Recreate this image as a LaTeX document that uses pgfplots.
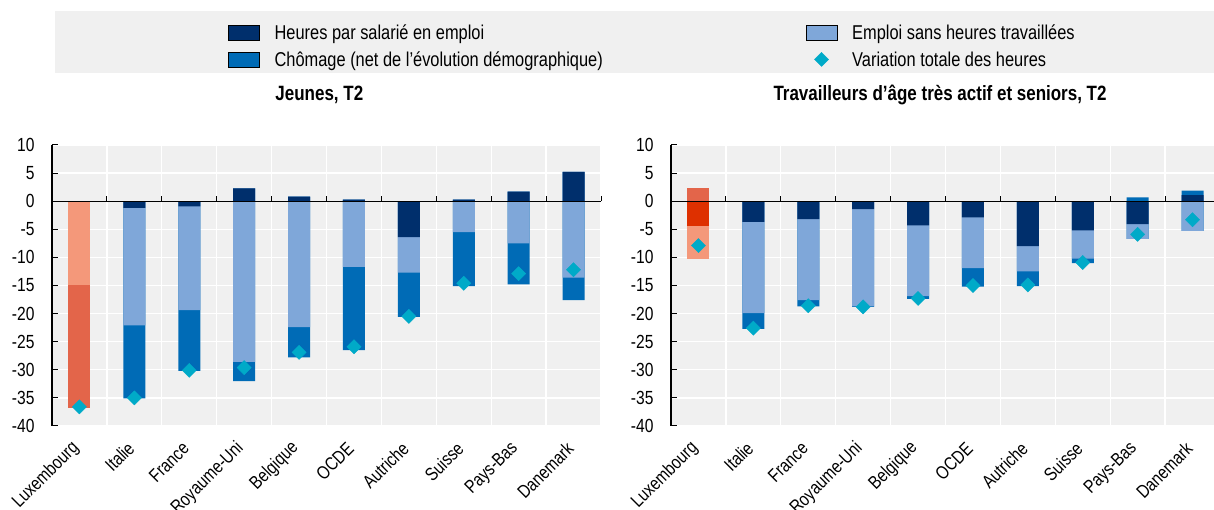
\documentclass[border=0pt]{standalone}
\usepackage{fontspec}
\setmainfont{Liberation Sans}[FakeStretch=0.82]
\usepackage{pgfplots}
\usepackage{pgfplotstable}
\pgfplotsset{compat=1.18}

\definecolor{cH}{HTML}{002F6C}
\definecolor{cC}{HTML}{006BB6}
\definecolor{cE}{HTML}{7FA7D9}
\definecolor{cD}{HTML}{00AAC8}
\definecolor{lH}{HTML}{DE3000}
\definecolor{lC}{HTML}{E3654A}
\definecolor{lE}{HTML}{F4987A}
\definecolor{plotbg}{HTML}{F0F0F0}

% h: heures par salarie, e: emploi sans heures, c: chomage, t: variation totale
\pgfplotstableread{
x h e c t
0 0 -14.9 -21.9 -36.6
1 -1.2 -20.9 -13.0 -35.0
2 -0.9 -18.5 -10.8 -30.1
3 2.3 -28.6 -3.4 -29.6
4 0.8 -22.4 -5.4 -26.9
5 0.3 -11.7 -14.8 -25.9
6 -6.4 -6.3 -7.9 -20.5
7 0.3 -5.5 -9.6 -14.6
8 1.7 -7.5 -7.3 -12.9
9 5.2 -13.6 -4.0 -12.2
}\jeunes

\pgfplotstableread{
x h e c t
0 -4.4 -5.9 2.3 -7.9
1 -3.7 -16.2 -2.8 -22.6
2 -3.2 -14.4 -1.1 -18.6
3 -1.4 -17.3 -0.1 -18.8
4 -4.3 -12.6 -0.5 -17.3
5 -2.9 -9.0 -3.3 -15.0
6 -8.0 -4.5 -2.6 -14.9
7 -5.2 -5.0 -0.8 -10.9
8 -4.1 -2.6 0.7 -5.9
9 1.1 -5.3 0.8 -3.3
}\seniors

\pgfplotsset{
  panel/.style={
    scale only axis, width=549pt, height=281pt,
    xmin=-0.5, xmax=9.5, ymin=-40, ymax=10,
    clip=false,
    axis background/.style={fill=plotbg},
    axis y line=left, y axis line style={-, black, line width=1.3pt},
    axis x line=bottom, x axis line style={draw=none},
    tick align=inside, major tick length=6pt,
    y tick style={black, line width=1pt},
    x tick style={draw=none},
    ytick={-40,-35,...,10},
    yticklabels={-40,-35,-30,-25,-20,-15,-10,-5,0,5,10},
    xtick={0,...,9},
    xticklabels={Luxembourg,Italie,France,Royaume-Uni,Belgique,OCDE,Autriche,Suisse,Pays-Bas,Danemark},
    minor xtick={-0.5,0.5,...,9.5},
    ymajorgrids, xminorgrids,
    major grid style={white, line width=1.3pt},
    minor grid style={white, line width=1.3pt},
    yticklabel style={font=\fontsize{19}{19}\selectfont, xshift=-14pt},
    xticklabel style={font=\fontsize{18.6}{18.6}\selectfont, xshift=-1pt, yshift=-17pt, rotate=45, anchor=east},
    title style={font=\fontsize{20.7}{20.7}\selectfont\bfseries, anchor=base, yshift=38pt},
  },
  seg/.style={ybar, bar width=22pt, bar shift=0pt, draw=none, forget plot},
  tot/.style={only marks, mark=square*, mark size=5pt, mark options={rotate=45, fill=cD, draw=cD}},
  legbar/.style={legend image code/.code={\fill[##1] (0pt,-7.5pt) rectangle (31pt,7.5pt);}},
  legmark/.style={legend image code/.code={\draw[##1] plot coordinates {(15.5pt,0pt)};}},
}

% stacked segments: negative parts stacked downward from 0, positive parts upward
\newcommand{\stackbars}[5]{%
  % #1 table, #2 index filter, #3 heures colour, #4 emploi colour, #5 chomage colour
  \addplot[seg, fill=#5, #2] table[x=x, y expr={min(\thisrow{h},0)+min(\thisrow{e},0)+min(\thisrow{c},0)}] {#1};
  \addplot[seg, fill=#4, #2] table[x=x, y expr={min(\thisrow{h},0)+min(\thisrow{e},0)}] {#1};
  \addplot[seg, fill=#3, #2] table[x=x, y expr={min(\thisrow{h},0)}] {#1};
  \addplot[seg, fill=#5, #2] table[x=x, y expr={max(\thisrow{h},0)+max(\thisrow{e},0)+max(\thisrow{c},0)}] {#1};
  \addplot[seg, fill=#4, #2] table[x=x, y expr={max(\thisrow{h},0)+max(\thisrow{e},0)}] {#1};
  \addplot[seg, fill=#3, #2] table[x=x, y expr={max(\thisrow{h},0)}] {#1};
}

\newcommand{\zeroline}{%
  \addplot[black, line width=1.3pt, forget plot] coordinates {(-0.5,0) (9.5,0)};
  \addplot[ycomb, black, line width=1pt, forget plot] coordinates
    {(0.5,0.9) (1.5,0.9) (2.5,0.9) (3.5,0.9) (4.5,0.9) (5.5,0.9) (6.5,0.9) (7.5,0.9) (8.5,0.9) (9.5,0.9)};
}

\begin{document}
\begin{tikzpicture}
\path[use as bounding box] (0,0) rectangle (1214pt,510pt);
\fill[plotbg] (55pt,437pt) rectangle (1214pt,499pt);

\begin{axis}[panel, at={(52pt,84pt)}, anchor=south west,
  title={Jeunes, T2},
  title style={at={(axis description cs:0.487,1)}},
  legend columns=2, legend cell align=left,
  legend style={at={(axis description cs:0.3206,1.4484)}, anchor=north west,
    draw=none, fill=none, inner sep=0pt, row sep=0.6pt,
    font=\fontsize{20}{20}\selectfont,
    nodes={text height=18.4pt, text depth=4pt, inner sep=2pt},
    /tikz/every odd column/.style={column sep=13pt},
    /tikz/every even column/.style={column sep=201pt}},
]
\addlegendimage{legbar, fill=cH}\addlegendentry{Heures par salarié en emploi}
\addlegendimage{legbar, fill=cE}\addlegendentry{Emploi sans heures travaillées}
\addlegendimage{legbar, fill=cC}\addlegendentry{Chômage (net de l'évolution démographique)}
\addlegendimage{legmark, tot}\addlegendentry{Variation totale des heures}

\stackbars{\jeunes}{skip coords between index={0}{1}}{cH}{cE}{cC}
\stackbars{\jeunes}{skip coords between index={1}{10}}{lH}{lE}{lC}
\zeroline
\addplot[tot, forget plot] table[x=x, y=t] {\jeunes};
\end{axis}

\begin{axis}[panel, at={(671pt,84pt)}, anchor=south west,
  title={Travailleurs d'âge très actif et seniors, T2},
  title style={at={(axis description cs:0.49,1)}},
]
\stackbars{\seniors}{skip coords between index={0}{1}}{cH}{cE}{cC}
\stackbars{\seniors}{skip coords between index={1}{10}}{lH}{lE}{lC}
\zeroline
\addplot[tot, forget plot] table[x=x, y=t] {\seniors};
\end{axis}
\end{tikzpicture}
\end{document}
